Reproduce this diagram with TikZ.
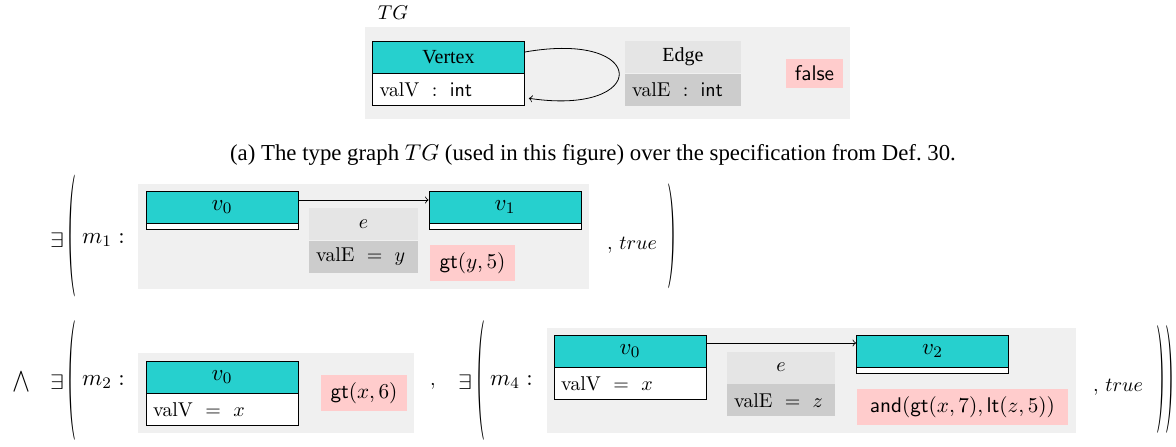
\RequirePackage{fix-cm}
\documentclass[tikz,border=0pt]{standalone}
\usepackage{amsmath,amssymb}
\usepackage{graphicx}
\usepackage[no-math]{fontspec}
\setmainfont{Liberation Serif}
\usetikzlibrary{positioning}
\definecolor{vteal}{RGB}{38,208,206}
\tikzset{>=to,
bgfill/.style={fill=black!6},
vhead/.style={draw, fill=vteal, minimum width=76pt, minimum height=16pt, inner sep=0pt},
vname/.style={vhead, font=\fontsize{11.5}{13}\selectfont},
vattr/.style={draw, fill=white, text width=#1, align=left, inner xsep=3.5pt, inner ysep=0pt, minimum height=16pt},
vnone/.style={draw, fill=white, minimum width=76pt, minimum height=3pt, inner sep=0pt},
ehead/.style={fill=black!10, minimum width=#1, minimum height=16pt, inner sep=0pt},
eattr/.style={fill=black!20, text width=#1, align=left, inner xsep=3.5pt, inner ysep=0pt, minimum height=16pt},
cond/.style={fill=red!20, inner sep=0pt, minimum width=#1, minimum height=18pt, font=\fontsize{10.6}{12}\selectfont},
mlab/.style={font=\fontsize{11.5}{13}\selectfont}}
\newcommand{\tallpar}[2]{\scalebox{1.15}[#1]{$#2$}}
\newcommand{\wideex}{\scalebox{1.25}[1.05]{$\exists$}}

\begin{document}
\begin{tikzpicture}[x=0.5pt,y=-0.5pt]
\useasboundingbox (0,0) rectangle (1176,446);
\fill[bgfill] (365,27) rectangle (850,119);
\fill[bgfill] (138,184) rectangle (589,289);
\fill[bgfill] (138,353) rectangle (414,433);
\fill[bgfill] (547,328) rectangle (1076,433);

% type graph
\node (TG) at (393,13) {$TG$};
\node[vhead] (V) at (448.5,57) {Vertex};
\node[vattr=69pt, below=0pt of V] (Vat) {$\mathrm{valV}\ :\ \mathsf{int}$};
\node[ehead=58pt] (E) at (683,57) {Edge};
\node[eattr=51pt, below=0pt of E] (Eat) {$\mathrm{valE}\ :\ \mathsf{int}$};
\node[cond=28.5pt, minimum height=14.5pt] (F) at (814.5,73.5) {\textsf{false}};
\draw[->] ([yshift=2.5pt]V.east) .. controls +(62.5pt,11pt) and +(60.5pt,-9pt) .. ([xshift=2pt,yshift=-4.25pt]Vat.east);
\node[font=\fontsize{11.4}{14}\selectfont] (cap) at (593,155) {(a) The type graph $TG$ (used in this figure) over the specification from Def.~30.};

% m1
\node (ex1) at (57,240) {\wideex};
\node (lp1) at (72,236) {\tallpar{6.1}{(}};
\node[mlab] (m1) at (103.5,240) {$m_1:$};
\node[vname] (v0a) at (222,207) {$v_0$};
\node[vnone, below=0pt of v0a] (v0an) {};
\node[vname] (v1) at (505,207) {$v_1$};
\node[vnone, below=0pt of v1] (v1n) {};
\node[ehead=54.5pt] (e1) at (363.5,224) {$e$};
\node[eattr=47.5pt, below=0pt of e1] (e1at) {$\mathrm{valE}\ =\ y$};
\node[cond=42.5pt] (c1) at (472.5,263) {$\mathsf{gt}(y,5)$};
\draw[->] ([yshift=3.5pt]v0a.east) -- ([yshift=3.5pt]v1.west);
\node (t1) at (632,245) {$,\, true$};
\node (rp1) at (672,236) {\tallpar{5.25}{)}};

% m2, m4
\node (and) at (21,382) {\scalebox{1.35}[1.7]{$\wedge$}};
\node (ex2) at (57,382) {\wideex};
\node (lp2) at (72,380) {\tallpar{6}{(}};
\node[mlab] (m2) at (103.5,382) {$m_2:$};
\node[vname] (v0b) at (222,377) {$v_0$};
\node[vattr=69pt, below=0pt of v0b] (v0bat) {$\mathrm{valV}\ =\ x$};
\node[cond=43pt] (c2) at (364,393) {$\mathsf{gt}(x,6)$};
\node (cm) at (433,386) {$,$};
\node (ex3) at (465,382) {\wideex};
\node (lp3) at (481,380) {\tallpar{6}{(}};
\node[mlab] (m4) at (511.5,382) {$m_4:$};
\node[vname] (v0c) at (630,351) {$v_0$};
\node[vattr=69pt, below=0pt of v0c] (v0cat) {$\mathrm{valV}\ =\ x$};
\node[vname] (v2) at (932.5,351) {$v_2$};
\node[vnone, below=0pt of v2] (v2n) {};
\node[ehead=54pt] (e2) at (781,367.5) {$e$};
\node[eattr=47pt, below=0pt of e2] (e2at) {$\mathrm{valE}\ =\ z$};
\node[cond=105.5pt] (c3) at (962.5,407) {$\mathsf{and}(\mathsf{gt}(x,7),\mathsf{lt}(z,5))$};
\draw[->] ([yshift=4pt]v0c.east) -- ([yshift=4pt]v2.west);
\node (t2) at (1118,387) {$,\, true$};
\node (rp2) at (1165,379) {\tallpar{5.4}{))}};
\end{tikzpicture}
\end{document}
